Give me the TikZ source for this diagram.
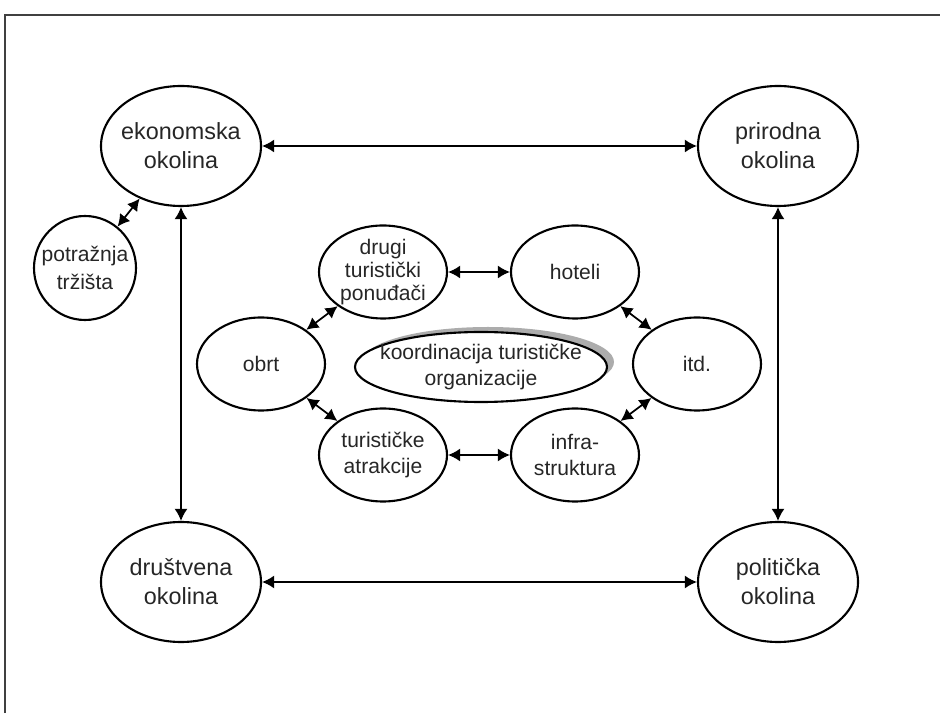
\documentclass[tikz,border=0pt]{standalone}
\usepackage{fontspec}
\setmainfont{Liberation Sans}
\usepackage{tikz}
\usetikzlibrary{shapes.geometric,arrows.meta,shadows}

\tikzset{
  krug/.style={draw, ellipse, line width=1.2pt, inner sep=-10pt, align=center,
    text=black!85, font=\fontsize{12}{13}\selectfont},
  okolina/.style={krug, minimum width=3.2cm, minimum height=2.4cm,
    font=\fontsize{13.3}{16.5}\selectfont},
  ponuda/.style={krug, minimum width=2.56cm, minimum height=1.86cm},
  veza/.style={{Latex[length=0.24cm,width=0.26cm]}-{Latex[length=0.24cm,width=0.26cm]}, line width=1pt}
}

\begin{document}
\begin{tikzpicture}
		\useasboundingbox (0,0) rectangle (18.8,14.26);
		% okvir
		\draw[line width=1.4pt, black!75] (0.1,0) -- (0.1,13.96) -- (18.8,13.96);

		\node (eko) at (3.62,11.34)[okolina]{ekonomska\\okolina};
		\node (pri) at (15.56,11.34)[okolina]{prirodna\\okolina};
		\node (dru) at (3.62,2.62)[okolina]{društvena\\okolina};
		\node (pol) at (15.56,2.62)[okolina]{politička\\okolina};
		\node (pot) at (1.7,8.9)[krug, minimum width=2.04cm, minimum height=2.08cm,
			font=\fontsize{12}{15.5}\selectfont]{potražnja\\tržišta};

		\node (drugi) at (7.66,8.82)[ponuda]{drugi\\turistički\\ponuđači};
		\node (hot) at (11.5,8.82)[ponuda]{hoteli};
		\node (obrt) at (5.22,6.98)[ponuda]{obrt};
		\node (itd) at (13.94,6.98)[ponuda]{itd.};
		\node (atr) at (7.66,5.16)[ponuda, font=\fontsize{12}{14.5}\selectfont]{turističke\\atrakcije};
		\node (inf) at (11.5,5.16)[ponuda, font=\fontsize{12}{14.5}\selectfont]{infra-\\struktura};

		\node (koord) at (9.62,6.92)[krug, fill=white, minimum width=5.04cm, minimum height=1.4cm,
			font=\fontsize{12}{14.5}\selectfont,
			drop shadow={shadow xshift=0.14cm, shadow yshift=0.1cm, fill=gray!65, opacity=1}]
			{koordinacija turističke\\organizacije};

		% veze
		\draw[veza] (eko) -- (pri);
		\draw[veza] (dru) -- (pol);
		\draw[veza] (eko) -- (dru);
		\draw[veza] (pri) -- (pol);
		\draw[veza] (pot) -- (eko);
		\draw[veza] (drugi) -- (hot);
		\draw[veza] (atr) -- (inf);
		\draw[veza] (obrt) -- (drugi);
		\draw[veza] (obrt) -- (atr);
		\draw[veza] (hot) -- (itd);
		\draw[veza] (inf) -- (itd);
\end{tikzpicture}
\end{document}
